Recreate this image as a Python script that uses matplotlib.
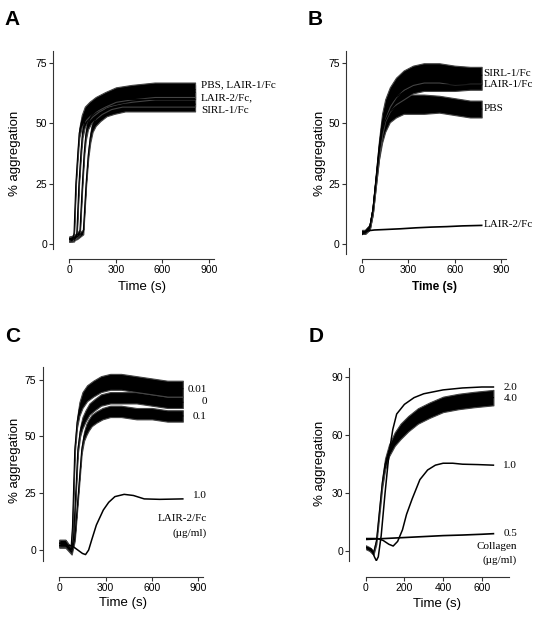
#!/usr/bin/env python3
# platelet aggregation traces, 4 panels (A-D)
import numpy as np
import matplotlib.pyplot as plt

plt.rcParams['font.family'] = ['Liberation Sans', 'DejaVu Sans']
SERIF = ['Liberation Serif', 'DejaVu Serif']

# %% panel A: Fc proteins, collagen stimulation
a_pbs_t = [0, 20, 30, 42, 55, 64, 80, 100, 130, 170, 230, 300, 400, 550, 700, 810]
a_pbs_y = [2, 2, 4, 25, 38, 46, 51, 54, 56, 58, 60, 62, 63, 64, 64, 64]
a_lair1_t = [0, 30, 48, 62, 75, 85, 100, 120, 150, 190, 250, 320, 400, 550, 700, 810]
a_lair1_y = [2, 2, 4, 25, 38, 46, 51, 54, 56, 58, 60, 61, 62, 63, 63, 63]
a_lair2_t = [0, 40, 68, 84, 96, 106, 120, 140, 170, 210, 270, 340, 420, 550, 700, 810]
a_lair2_y = [2, 3, 5, 25, 38, 45, 50, 53, 55, 57, 59, 60, 60, 60, 60, 60]
a_sirl_t = [0, 50, 90, 108, 122, 135, 150, 170, 200, 240, 290, 360, 440, 550, 700, 810]
a_sirl_y = [2, 3, 5, 25, 37, 44, 49, 52, 54, 56, 57, 58, 58, 58, 58, 58]
a_hw = [1, 1, 1, 1, 1.5, 2, 2.5, 3, 3, 3, 3, 3, 3, 3, 3, 3]
a_labels = ['PBS, LAIR-1/Fc', 'LAIR-2/Fc,', 'SIRL-1/Fc']
a_label_y = [66, 60.5, 55.2]

# %% panel B
b_t = [0, 20, 50, 70, 90, 110, 130, 150, 180, 220, 270, 330, 400, 500, 600, 700, 775]
b_sirl_y = [5, 5, 7, 14, 27, 40, 50, 56, 61, 65, 68, 70, 71, 71, 70, 70, 70]
b_lair1_y = [5, 5, 7, 14, 26, 38, 48, 54, 58, 61, 63, 65, 66, 66, 66, 66, 66]
b_pbs_y = [5, 5, 7, 14, 26, 38, 46, 51, 55, 57, 58, 58, 58, 58, 57, 56, 56]
b_sirl_hw = [0.8, 0.8, 1, 1.5, 2, 3, 4, 4, 4, 4, 4, 4, 4, 4, 4, 3.5, 3.5]
b_lair1_hw = [0.8, 0.8, 1, 1.5, 2, 2.5, 3, 3, 3, 3, 3, 2.5, 2.5, 2.5, 2.5, 2, 2]
b_pbs_hw = [0.8, 0.8, 1, 1.5, 2, 3, 4, 4.5, 4.5, 4.5, 4, 4, 4, 3.5, 3.5, 3.5, 3.5]
b_lair2_t = [0, 15, 40, 80, 150, 250, 350, 450, 550, 650, 775]
b_lair2_y = [4, 5, 5.5, 5.8, 6, 6.3, 6.7, 7, 7.2, 7.5, 7.7]
b_labels = ['SIRL-1/Fc', 'LAIR-1/Fc', 'PBS', 'LAIR-2/Fc']
b_label_y = [70.8, 66, 56.3, 8.2]

# %% panel C: LAIR-2/Fc dose (ug/ml)
c_001_t = [0, 40, 75, 85, 100, 115, 130, 150, 180, 220, 270, 330, 400, 500, 600, 700, 800]
c_001_y = [3, 3, 0, 10, 44, 56, 62, 66, 69, 71, 73, 74, 74, 73, 72, 71, 71]
c_0_t = [0, 40, 78, 92, 120, 135, 150, 170, 195, 230, 270, 330, 400, 500, 600, 700, 800]
c_0_y = [3, 3, 0, 5, 44, 52, 56, 59, 62, 64, 66, 67, 67, 67, 66, 65, 65]
c_01_t = [0, 40, 80, 100, 145, 160, 175, 190, 210, 240, 280, 330, 400, 500, 600, 700, 800]
c_01_y = [2, 2, -1, 5, 44, 50, 53, 55, 57, 58.5, 60, 61, 61, 60, 60, 59, 59]
c_001_hw = [1.5, 1.5, 1, 1, 1.5, 2, 3, 3.5, 3.5, 3.5, 3.5, 3.5, 3.5, 3.5, 3.5, 3.5, 3.5]
c_0_hw = [1.5, 1.5, 1, 1, 1.5, 2, 2.5, 2.5, 2.5, 2.5, 2.5, 2.5, 2.5, 2.5, 2.5, 2.5, 2.5]
c_01_hw = [1, 1, 1, 1, 1.5, 2, 2.5, 2.5, 2.5, 2.5, 2.5, 2.5, 2.5, 2.5, 2.5, 2.5, 2.5]
c_1_t = [0, 40, 80, 120, 150, 170, 190, 210, 240, 285, 320, 360, 420, 480, 550, 650, 800]
c_1_y = [2, 2, 2, 0, -1.5, -2, 0, 4.5, 11, 17.6, 21, 23.5, 24.5, 24, 22.5, 22.3, 22.5]
c_labels = ['0.01', '0', '0.1', '1.0', 'LAIR-2/Fc', '(\u00b5g/ml)']
c_label_y = [70.8, 65.2, 58.6, 23.9, 13.9, 7.6]

# %% panel D: collagen dose (ug/ml)
d_20_t = [0, 30, 45, 55, 65, 80, 100, 120, 140, 160, 200, 250, 300, 400, 500, 600, 660]
d_20_y = [2, 1, -3, -5, -3, 8, 30, 50, 63, 71, 76, 79.5, 81.5, 83.5, 84.5, 85, 85]
d_40_t = [0, 20, 40, 55, 70, 85, 100, 120, 150, 180, 220, 270, 330, 400, 480, 560, 660]
d_40_y = [2, 1, -1, 5, 20, 35, 45, 52, 58, 62, 66, 70, 73, 76, 77.5, 78.5, 79.5]
d_40_hw = [1, 1, 1, 1.5, 2, 2.5, 3, 3, 3.5, 4, 4, 4, 4, 4, 4, 4, 4]
d_10_t = [0, 60, 90, 120, 142, 165, 190, 211, 240, 280, 320, 360, 400, 450, 500, 580, 660]
d_10_y = [6.5, 6.5, 5.5, 3.5, 2.6, 5, 11, 19, 27, 37, 42, 44.5, 45.5, 45.5, 45, 44.8, 44.5]
d_05_t = [0, 100, 200, 300, 400, 500, 600, 660]
d_05_y = [6, 6.5, 7, 7.5, 8, 8.3, 8.7, 9]
d_labels = ['2.0', '4.0', '1.0', '0.5', 'Collagen', '(\u00b5g/ml)']
d_label_y = [84.7, 79, 44.5, 9, 2.2, -4.7]

W, H = 538, 619


def px_box(x0, y_bot, x1, y_top):
    # pixel box -> figure fraction rect
    return [x0 / W, 1 - y_bot / H, (x1 - x0) / W, (y_bot - y_top) / H]


def style(ax, xlim, ylim, xticks, yticks, left_out, bottom_out):
    ax.set_xlim(*xlim)
    ax.set_ylim(*ylim)
    ax.set_xticks(xticks)
    ax.set_yticks(yticks)
    for s in ['top', 'right']:
        ax.spines[s].set_visible(False)
    ax.spines['left'].set_position(('outward', left_out))
    ax.spines['bottom'].set_position(('outward', bottom_out))
    for s in ['left', 'bottom']:
        ax.spines[s].set_linewidth(0.8)
        ax.spines[s].set_color('#333333')
    ax.tick_params(length=3, width=0.8, pad=1.5, labelsize=7.5, color='#333333')


def trace(ax, t, y, hw=None, lw=0.8):
    t = np.asarray(t, float)
    y = np.asarray(y, float)
    if hw is not None:
        hw = np.asarray(hw, float)
        ax.fill_between(t, y - hw, y + hw, color='black', lw=0.8, ec='#444444')
    ax.plot(t, y, color='black', lw=lw)


fig = plt.figure(figsize=(W / 100, H / 100), dpi=100)

# %% A
axA = fig.add_axes(px_box(69.3, 248.8, 213.7, 51.2))
style(axA, (0, 930), (-2, 80), [0, 300, 600, 900], [0, 25, 50, 75], 11.5, 7.3)
for t, y in [(a_sirl_t, a_sirl_y), (a_lair2_t, a_lair2_y), (a_lair1_t, a_lair1_y), (a_pbs_t, a_pbs_y)]:
    trace(axA, t, y, a_hw)
for lab, yy in zip(a_labels, a_label_y):
    axA.text(847, yy, lab, family=SERIF, fontsize=8, va='center', ha='left')

# %% B
axB = fig.add_axes(px_box(362, 253.6, 505.6, 51.2))
style(axB, (0, 930), (-4, 80), [0, 300, 600, 900], [0, 25, 50, 75], 11.5, 3.9)
trace(axB, b_t, b_pbs_y, b_pbs_hw)
trace(axB, b_t, b_lair1_y, b_lair1_hw)
trace(axB, b_t, b_sirl_y, b_sirl_hw)
trace(axB, b_lair2_t, b_lair2_y, lw=1.2)
for lab, yy in zip(b_labels, b_label_y):
    axB.text(785, yy, lab, family=SERIF, fontsize=8, va='center', ha='left')

# %% C
axC = fig.add_axes(px_box(59.3, 561.4, 202.9, 367.3))
style(axC, (0, 930), (-5, 80.4), [0, 300, 600, 900], [0, 25, 50, 75], 12, 11)
trace(axC, c_01_t, c_01_y, c_01_hw)
trace(axC, c_0_t, c_0_y, c_0_hw)
trace(axC, c_001_t, c_001_y, c_001_hw)
trace(axC, c_1_t, c_1_y, lw=1.1)
for lab, yy in zip(c_labels, c_label_y):
    axC.text(955, yy, lab, family=SERIF, fontsize=8, va='center', ha='right')

# %% D
axD = fig.add_axes(px_box(365.7, 560.7, 508.9, 367.7))
style(axD, (0, 740), (-5, 95), [0, 200, 400, 600], [0, 30, 60, 90], 11.8, 11.5)
trace(axD, d_05_t, d_05_y, lw=1.2)
trace(axD, d_10_t, d_10_y, lw=1.1)
trace(axD, d_40_t, d_40_y, d_40_hw)
trace(axD, d_20_t, d_20_y, lw=1.1)
for lab, yy in zip(d_labels, d_label_y):
    axD.text(783, yy, lab, family=SERIF, fontsize=8, va='center', ha='right')

# %% axis titles and panel letters
for (xp, yp) in [(15, 153), (320, 153), (15, 460), (320, 463)]:
    fig.text(xp / W, 1 - yp / H, '% aggregation', rotation=90, ha='center', va='center', fontsize=9.5)
fig.text(142 / W, 1 - 287 / H, 'Time (s)', ha='center', va='center', fontsize=9.5)
fig.text(435 / W, 1 - 287 / H, 'Time (s)', ha='center', va='center', fontsize=8.5, fontweight='bold')
fig.text(123 / W, 1 - 603 / H, 'Time (s)', ha='center', va='center', fontsize=9.5)
fig.text(437 / W, 1 - 604 / H, 'Time (s)', ha='center', va='center', fontsize=9.5)
for lab, xp, yp in [('A', 4, 25), ('B', 308, 25), ('C', 5, 342), ('D', 309, 342)]:
    fig.text(xp / W, 1 - yp / H, lab, ha='left', va='baseline', fontsize=15, fontweight='bold')

fig.savefig('out.png', dpi=100)
